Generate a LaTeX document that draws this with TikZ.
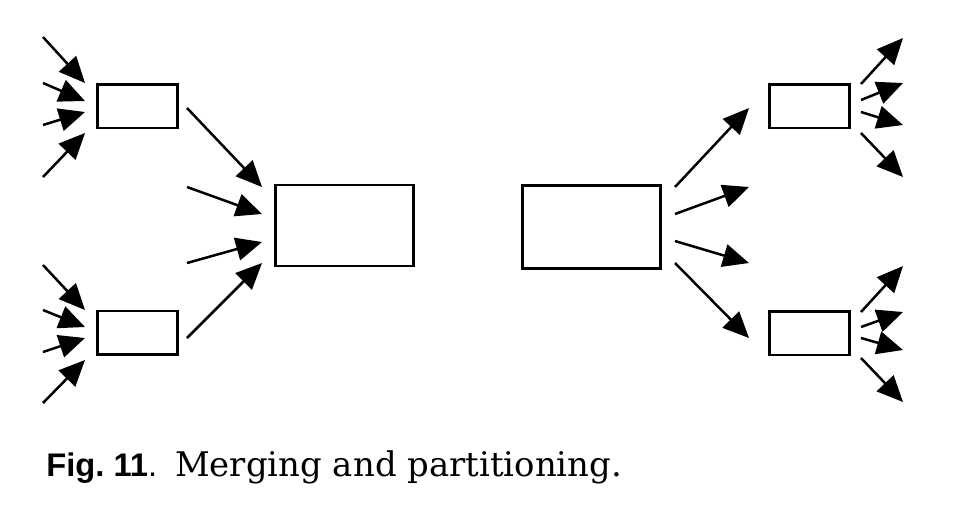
\documentclass[tikz,border=0pt]{standalone}
\usepackage{fontspec}
\setmainfont{DejaVu Serif}
\setsansfont{Liberation Sans}
\usepackage{tikz}
\usetikzlibrary{positioning, arrows.meta}

\tikzset{
  box/.style={draw, line width=0.05cm, inner sep=0pt},
  smallbox/.style={box, minimum width=1.6cm, minimum height=0.87cm},
  bigbox/.style={box, minimum width=2.76cm, minimum height=1.62cm},
  flow/.style={-{Triangle[length=0.52cm, width=0.46cm]}, line width=0.05cm}
}

\begin{document}
\begin{tikzpicture}[x=0.02cm, y=-0.02cm]
    \useasboundingbox (0,0) rectangle (970,512);

    % boxes
    \node[smallbox] (intop) at (137.5,106) {};
    \node[smallbox] (inbot) at (137.5,332.5) {};
    \node[bigbox] (merge) at (344.5,225.5) {};
    \node[bigbox, minimum height=1.66cm] (part) at (591.5,227) {};
    \node[smallbox] (outtop) at (809.5,106) {};
    \node[smallbox] (outbot) at (809.5,333) {};

    % inputs of the left small boxes
    \foreach \i/\sy/\ty in {1/37/83, 2/83/101, 3/125/112, 4/177/133} {
      \coordinate (intopsrc\i) at (43,\sy);
      \coordinate (intoptip\i) at (85,\ty);
      \draw[flow] (intopsrc\i) -- (intoptip\i);
    }
    \foreach \i/\sy/\ty in {1/265/310, 2/310/327, 3/352/338, 4/403/360} {
      \coordinate (inbotsrc\i) at (43,\sy);
      \coordinate (inbottip\i) at (85,\ty);
      \draw[flow] (inbotsrc\i) -- (inbottip\i);
    }

    % merging
    \foreach \i/\sy/\ty in {1/108/187, 2/187/214, 3/263/242, 4/338/263} {
      \coordinate (mergesrc\i) at (187,\sy);
      \coordinate (mergetip\i) at (262,\ty);
      \draw[flow] (mergesrc\i) -- (mergetip\i);
    }

    % partitioning
    \foreach \i/\sy/\ty in {1/187/108, 2/214/187, 3/241/263, 4/263/338} {
      \coordinate (partsrc\i) at (675,\sy);
      \coordinate (parttip\i) at (749,\ty);
      \draw[flow] (partsrc\i) -- (parttip\i);
    }

    % outputs of the right small boxes
    \foreach \i/\sy/\ty in {1/84/38, 2/100/83, 3/112/125, 4/133/177} {
      \coordinate (outtopsrc\i) at (861,\sy);
      \coordinate (outtoptip\i) at (903,\ty);
      \draw[flow] (outtopsrc\i) -- (outtoptip\i);
    }
    \foreach \i/\sy/\ty in {1/312/266, 2/327/312, 3/338/350, 4/358/402} {
      \coordinate (outbotsrc\i) at (861,\sy);
      \coordinate (outbottip\i) at (903,\ty);
      \draw[flow] (outbotsrc\i) -- (outbottip\i);
    }

    % caption
    \node[anchor=base west, inner sep=0pt] (caption) at (46,476.5) {%
      {\fontsize{18.6}{20}\selectfont\sffamily\bfseries Fig.~11}{\fontsize{18.6}{20}\selectfont\sffamily .}\hspace{0.36cm}%
      {\fontsize{19.3}{21}\selectfont Merging and partitioning.}};
  \end{tikzpicture}
\end{document}
